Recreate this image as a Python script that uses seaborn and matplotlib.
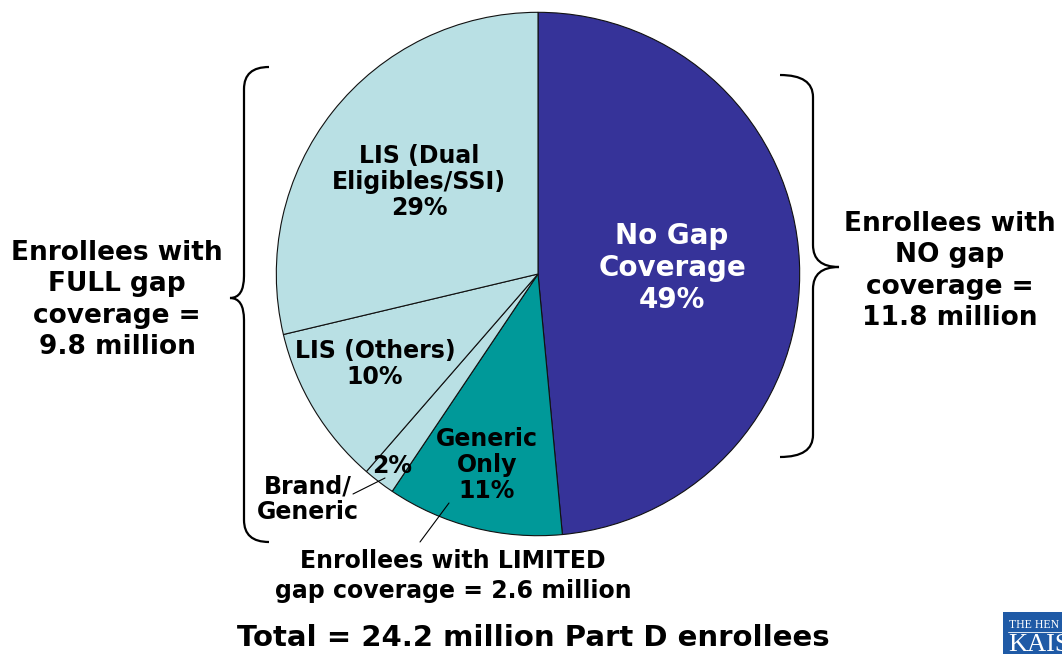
import matplotlib
matplotlib.use("Agg")
import matplotlib.pyplot as plt
from matplotlib.path import Path
from matplotlib.patches import PathPatch, Rectangle
import seaborn as sns

# ---- data ----
segments = ["No Gap Coverage", "Generic Only", "Brand/Generic", "LIS (Others)", "LIS (Dual Eligibles/SSI)"]
shares = [49, 11, 2, 10, 29]
palette = ["#363399", "#009999", "#B9E0E4", "#B9E0E4", "#B9E0E4"]
total_label = "Total = 24.2 million Part D enrollees"
full_gap = "Enrollees with\nFULL gap\ncoverage =\n9.8 million"
no_gap = "Enrollees with\nNO gap\ncoverage =\n11.8 million"
limited_gap = "Enrollees with LIMITED\ngap coverage = 2.6 million"

sns.set_theme(style="white")
plt.rcParams['font.family'] = ['DejaVu Sans']

W, H = 1062, 654
fig = plt.figure(figsize=(W / 100, H / 100), dpi=100)
fig.patch.set_facecolor("white")

cx, cy, R = 538, 274, 263
ax = fig.add_axes([(cx - R) / W, (H - cy - R) / H, 2 * R / W, 2 * R / H])
ax.pie(shares, colors=sns.color_palette(palette), startangle=90, counterclock=False,
       radius=1.0, wedgeprops=dict(edgecolor="#111111", linewidth=0.8))
ax.set_xlim(-1.005, 1.005)
ax.set_ylim(-1.005, 1.005)
ax.set_aspect("auto")
ax.axis("off")

# overlay in pixel coordinates
ov = fig.add_axes([0, 0, 1, 1], zorder=5)
ov.set_xlim(0, W)
ov.set_ylim(H, 0)
ov.axis("off")
ov.patch.set_alpha(0)

def brace(x_end, x_line, x_tip, y_top, y_mid, y_bot, r=22):
    verts = [(x_end, y_top), (x_line, y_top), (x_line, y_top + r),
             (x_line, y_mid - r), (x_line, y_mid), (x_tip, y_mid),
             (x_line, y_mid), (x_line, y_mid + r),
             (x_line, y_bot - r), (x_line, y_bot), (x_end, y_bot)]
    codes = [Path.MOVETO, Path.CURVE3, Path.CURVE3,
             Path.LINETO, Path.CURVE3, Path.CURVE3,
             Path.CURVE3, Path.CURVE3,
             Path.LINETO, Path.CURVE3, Path.CURVE3]
    ov.add_patch(PathPatch(Path(verts, codes), facecolor="none", edgecolor="black", lw=1.6))

brace(269, 244, 230, 67, 298, 542)
brace(780, 813, 839, 75, 267, 457)

bold = dict(fontweight="bold", ha="center", va="center")
ov.text(672, 268, "No Gap\nCoverage\n49%", color="white", fontsize=20, linespacing=1.2, **bold)
ov.text(419, 182, "LIS (Dual\nEligibles/SSI)\n29%", color="black", fontsize=17, linespacing=1.12, **bold)
ov.text(375, 364, "LIS (Others)\n10%", color="black", fontsize=17, linespacing=1.12, **bold)
ov.text(487, 465, "Generic\nOnly\n11%", color="black", fontsize=17, linespacing=1.1, **bold)
ov.text(392, 466, "2%", color="black", fontsize=17, **bold)
ov.text(308, 499, "Brand/\nGeneric", color="black", fontsize=17, linespacing=1.1, **bold)
ov.text(117, 300, full_gap, color="black", fontsize=19, linespacing=1.27, **bold)
ov.text(950, 271, no_gap, color="black", fontsize=19, linespacing=1.26, **bold)
ov.text(453, 576, limited_gap, color="black", fontsize=17, linespacing=1.3, **bold)
ov.text(533, 638, total_label, color="black", fontsize=21, **bold)

# leader lines
ov.plot([353, 385], [494, 478], color="black", lw=0.8)
ov.plot([420, 449], [542, 503], color="black", lw=0.8)

# logo fragment (cut by the right/bottom edges as in the reference)
ov.add_patch(Rectangle((1003, 612), 70, 50, facecolor="#1F5AA6", edgecolor="none", clip_on=False))
ov.plot([1008, 1062], [632, 632], color="white", lw=0.6)
ov.text(1009, 625, "THE HEN", color="white", fontsize=8.5, family="Liberation Serif", ha="left", va="center")
ov.text(1008, 656, "KAIS", color="white", fontsize=19, family="Liberation Serif", ha="left", va="bottom")

fig.savefig("out.png", dpi=100)
